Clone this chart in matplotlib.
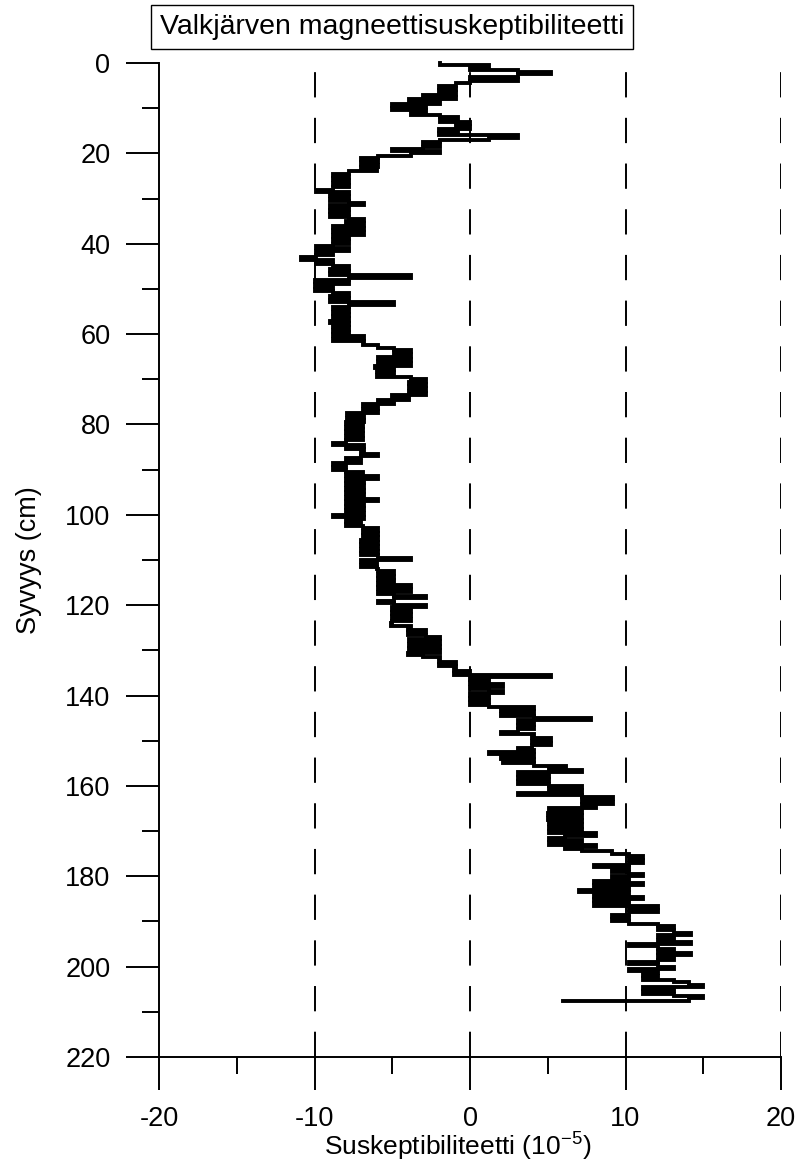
import numpy as np
import matplotlib
matplotlib.use("Agg")
import matplotlib.pyplot as plt

plt.rcParams['font.family'] = ['Liberation Sans', 'DejaVu Sans']
plt.rcParams['mathtext.fontset'] = 'custom'
plt.rcParams['mathtext.rm'] = 'Liberation Sans'
plt.rcParams['mathtext.it'] = 'Liberation Sans'
plt.rcParams['axes.unicode_minus'] = False

TITLE = "Valkjärven magneettisuskeptibiliteetti"
XLABEL = "Suskeptibiliteetti (10$^{-5}$)"
YLABEL = "Syvyys (cm)"
STEP_CM = 0.5  # sampling interval of the core

# susceptibility values, one every 0.5 cm, each row = 5 cm
values = [
    -1.9, 1.2, 0.0, 3.1, 5.2, 3.1, 0.0, 3.1, 0.0, -0.9,        # 0
    -2.0, -0.9, -2.0, -0.9, -3.0, -0.9, -3.9, -1.9, -5.0, -2.8,  # 5
    -5.0, -2.8, -3.8, -1.9, -0.8, -1.9, 0.0, -0.9, 0.0, -2.0,    # 10
    -0.8, -2.0, 3.1, 1.2, -1.9, -3.0, -1.9, -3.0, -5.0, -1.9,    # 15
    -3.8, -5.9, -7.0, -5.9, -7.0, -5.9, -7.0, -6.0, -7.8, -8.8,  # 20
    -7.8, -8.8, -7.8, -8.8, -7.8, -8.8, -9.9, -7.8, -9.0, -7.8,  # 25
    -9.0, -7.8, -6.8, -9.0, -7.8, -9.0, -7.8, -9.0, -7.8, -6.8,  # 30
    -8.0, -6.8, -8.8, -6.8, -8.8, -6.8, -8.8, -7.8, -8.8, -7.8,  # 35
    -8.8, -9.9, -7.8, -9.9, -8.8, -9.9, -10.9, -8.8, -9.9, -8.8, # 40
    -7.8, -9.0, -7.8, -9.0, -3.8, -7.8, -10.0, -7.8, -10.0, -8.8, # 45
    -10.0, -8.8, -7.8, -9.0, -7.8, -9.0, -4.9, -7.8, -8.8, -7.8, # 50
    -8.8, -7.8, -8.8, -7.8, -9.0, -7.8, -8.8, -7.8, -8.8, -7.8,  # 55
    -8.8, -6.8, -8.8, -6.8, -6.9, -5.9, -4.9, -3.8, -4.9, -3.8,  # 60
    -5.9, -3.8, -5.9, -3.8, -6.1, -4.9, -6.0, -4.9, -6.0, -3.8,  # 65
    -2.8, -3.9, -2.8, -3.9, -2.8, -3.9, -2.8, -5.0, -3.9, -5.9,  # 70
    -4.9, -6.9, -5.9, -6.9, -5.9, -7.9, -6.8, -7.9, -6.8, -8.0,  # 75
    -6.9, -8.0, -6.9, -8.0, -6.9, -8.0, -6.9, -8.0, -8.8, -6.8,  # 80
    -8.0, -6.8, -7.0, -5.9, -7.0, -8.0, -7.0, -8.8, -8.0, -8.8,  # 85
    -8.0, -6.9, -8.0, -5.9, -8.0, -6.8, -8.0, -6.8, -8.0, -6.8,  # 90
    -8.0, -6.8, -8.0, -5.9, -8.0, -6.8, -8.0, -6.8, -8.0, -6.8,  # 95
    -8.8, -6.8, -8.0, -7.0, -8.0, -6.9, -5.9, -6.9, -5.9, -6.9,  # 100
    -5.9, -7.0, -5.9, -7.0, -5.9, -7.0, -5.9, -7.0, -5.9, -3.8,  # 105
    -7.0, -6.0, -7.0, -6.0, -5.9, -4.9, -5.9, -4.9, -5.9, -4.9,  # 110
    -5.9, -3.8, -5.9, -3.8, -5.9, -4.9, -2.8, -4.9, -5.9, -4.9,  # 115
    -2.8, -5.0, -3.8, -5.0, -3.8, -5.0, -3.8, -5.0, -5.1, -3.8,  # 120
    -4.0, -2.8, -4.0, -2.8, -1.9, -3.9, -1.9, -3.9, -1.9, -3.9,  # 125
    -1.9, -4.0, -3.0, -1.9, -2.0, -0.9, -2.0, -0.9, -1.0, 0.0,   # 130
    -1.0, 5.2, 0.0, 1.2, 0.0, 2.1, 0.0, 1.2, 2.1, 0.0,           # 135
    1.2, 0.0, 1.2, 0.0, 1.2, 4.1, 2.0, 4.1, 2.0, 4.1,            # 140
    7.8, 3.1, 4.1, 3.1, 4.1, 3.1, 2.0, 4.1, 4.0, 5.2,            # 145
    4.0, 5.2, 4.0, 3.1, 4.1, 1.2, 4.1, 2.0, 4.1, 2.1,            # 150
    4.1, 6.2, 5.1, 7.2, 3.1, 5.1, 3.1, 5.1, 3.1, 5.1,            # 155
    7.2, 5.1, 7.2, 3.1, 7.2, 9.2, 7.2, 9.2, 7.2, 8.1,            # 160
    5.1, 7.2, 5.0, 7.2, 5.0, 7.2, 5.1, 7.2, 5.1, 7.2,            # 165
    5.1, 8.1, 6.1, 5.1, 7.2, 5.1, 8.1, 6.1, 7.2, 9.1,            # 170
    10.2, 11.1, 10.2, 11.1, 10.2, 8.0, 10.2, 9.1, 10.2, 11.1,    # 175
    9.1, 10.2, 8.0, 11.1, 8.0, 10.2, 7.0, 10.2, 8.0, 11.1,       # 180
    8.0, 10.2, 8.0, 12.1, 10.2, 12.1, 10.2, 9.1, 10.2, 9.1,      # 185
    10.2, 12.1, 13.1, 12.1, 13.1, 14.2, 12.1, 13.1, 12.1, 14.2,  # 190
    10.2, 12.1, 13.1, 12.1, 14.2, 12.1, 13.1, 12.1, 10.2, 12.1,  # 195
    13.1, 10.2, 12.1, 11.1, 12.1, 11.1, 13.1, 14.1, 15.0, 11.1,  # 200
    13.1, 11.1, 13.1, 15.0, 14.1, 6.0,                           # 205
]
depth = np.arange(len(values)) * STEP_CM

xticks_major = [-20, -10, 0, 10, 20]
xticks_minor = [-15, -5, 5, 15]
yticks_major = list(range(0, 221, 20))
yticks_minor = list(range(10, 220, 20))
grid_x = [-10, 0, 10, 20]

W, H = 799, 1167
fig = plt.figure(figsize=(W / 100, H / 100), dpi=100)
left, right, top, bottom = 159, 781, 63, 1057
ax = fig.add_axes([left / W, 1 - bottom / H, (right - left) / W, (bottom - top) / H])

for gx in grid_x:
    ax.axvline(gx, color='k', lw=1.4, linestyle=(0, (13, 10.5)), zorder=1)

ax.plot(values, depth, drawstyle='steps-pre', color='k', lw=2.8,
        solid_joinstyle='miter', zorder=3, clip_on=False)

ax.set_xlim(-20, 20)
ax.set_ylim(220, 0)
for s in ['top', 'right']:
    ax.spines[s].set_visible(False)
for s in ['left', 'bottom']:
    ax.spines[s].set_linewidth(1.4)

ax.set_xticks(xticks_major)
ax.set_xticks(xticks_minor, minor=True)
ax.set_yticks(yticks_major)
ax.set_yticks(yticks_minor, minor=True)
ax.tick_params(which='major', direction='out', length=24, width=1.4, labelsize=19.5, pad=11)
ax.tick_params(which='minor', direction='out', length=12, width=1.4)

ax.set_xlabel(XLABEL, fontsize=19)
ax.xaxis.set_label_coords((458 - left) / (right - left), -(1131 - bottom) / (bottom - top))
ax.set_ylabel(YLABEL, fontsize=19.5)
ax.yaxis.set_label_coords((42 - left) / (right - left), 0.5)

fig.text(392 / W, 1 - 27 / H, TITLE, fontsize=20.5, ha='center', va='center',
         bbox=dict(boxstyle='square,pad=0.3', fc='white', ec='k', lw=1.0))

fig.savefig('out.png', dpi=100)
